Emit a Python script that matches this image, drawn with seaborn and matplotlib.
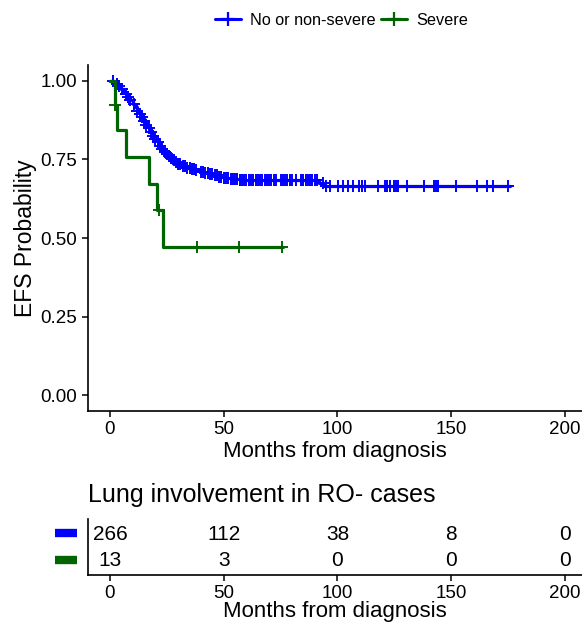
import numpy as np
import pandas as pd
import matplotlib
matplotlib.use("Agg")
import matplotlib.pyplot as plt
import seaborn as sns

# step curves (months, EFS probability after the step)
blue_t = [0, 2, 3, 4, 5, 6, 7, 8, 9, 10, 11, 12, 13, 14, 15, 16, 17, 18, 19, 20,
          21, 22, 23, 24, 25, 26, 27, 28, 29, 30, 32, 34, 36, 38, 40, 42, 44, 46,
          48, 50, 53, 57, 70, 92, 94, 176]
blue_s = [1.0, 0.996, 0.99, 0.983, 0.975, 0.966, 0.957, 0.948, 0.938, 0.927, 0.916,
          0.905, 0.895, 0.884, 0.872, 0.861, 0.850, 0.838, 0.826, 0.815, 0.804,
          0.794, 0.784, 0.775, 0.767, 0.760, 0.753, 0.747, 0.742, 0.737, 0.730,
          0.724, 0.719, 0.715, 0.711, 0.707, 0.703, 0.699, 0.695, 0.692, 0.689,
          0.686, 0.683, 0.675, 0.667, 0.667]
blue_cens = [1.5, 3, 4, 5.5, 7, 8, 9, 10.5, 12, 13, 14, 15, 16, 17, 18, 19, 20, 21,
             22, 23, 24, 25, 26, 27, 28, 29, 30, 31, 32, 33, 34, 35, 36, 37, 38, 40,
             41, 42, 43, 44, 45, 46, 47, 48, 49, 50, 51, 52, 53, 54, 55, 56, 57, 58,
             59, 60, 61, 62, 63, 64, 65, 66, 67, 68, 69, 70, 71, 72, 73, 75, 76, 77,
             78, 79, 80, 82, 84, 85, 86, 87, 88, 89, 90, 91, 93.6, 95, 96.7, 100.2,
             102.4, 104.6, 106.8, 109.5, 111, 112, 117.8, 120.9, 122, 123, 124.8,
             125.7, 126.6, 130.5, 138, 142.4, 143.4, 144.2, 152, 161.3, 165.7,
             168.4, 175]

green_t = [0, 2.2, 2.9, 6.9, 17.1, 20.5, 23.4, 76]
green_s = [1.0, 0.923, 0.843, 0.757, 0.671, 0.59, 0.47, 0.47]
green_cens = [2.2, 21.5, 38.4, 56.7, 75.8]

risk_times = [0, 50, 100, 150, 200]
risk_blue = [266, 112, 38, 8, 0]
risk_green = [13, 3, 0, 0, 0]

groups = ["No or non-severe", "Severe"]
colors = {"No or non-severe": "#0000FF", "Severe": "#006400"}

sns.set_style("ticks")
plt.rcParams["font.family"] = ["Liberation Sans", "DejaVu Sans"]
plt.rcParams["text.color"] = "black"
plt.rcParams["axes.labelcolor"] = "black"

curves = pd.concat([
    pd.DataFrame({"t": blue_t, "s": blue_s, "group": groups[0]}),
    pd.DataFrame({"t": green_t, "s": green_s, "group": groups[1]}),
])


def step_value(times, surv, x):
    idx = np.searchsorted(times, x, side="right") - 1
    return np.array(surv)[idx]


cens = pd.concat([
    pd.DataFrame({"t": blue_cens, "s": step_value(blue_t, blue_s, blue_cens), "group": groups[0]}),
    pd.DataFrame({"t": green_cens, "s": step_value(green_t, green_s, green_cens), "group": groups[1]}),
])

fig = plt.figure(figsize=(5.82, 6.26), dpi=100)
ax = fig.add_axes([0.151, 0.3435, 0.849, 0.5525])
tab = fig.add_axes([0.151, 0.0815, 0.849, 0.0895])

xlim = (-9.7, 207.5)

for g in groups:
    d = curves[curves["group"] == g]
    sns.lineplot(data=d, x="t", y="s", ax=ax, color=colors[g], lw=2.3,
                 drawstyle="steps-post", estimator=None, sort=False, legend=False)
    c = cens[cens["group"] == g]
    ax.plot(c["t"], c["s"], ls="none", marker="+", ms=9, mew=1.4, color=colors[g])

ax.set_xlim(*xlim)
ax.set_ylim(-0.05, 1.05)
ax.set_yticks([0, 0.25, 0.5, 0.75, 1.0])
ax.set_yticklabels(["0.00", "0.25", "0.50", "0.75", "1.00"])
ax.set_xticks(risk_times)
ax.set_xlabel("Months from diagnosis", fontsize=16)
ax.set_ylabel("EFS Probability", fontsize=16.5)
ax.yaxis.set_label_coords(-0.103, 0.5)
ax.xaxis.set_label_coords(0.5, -0.087)
ax.tick_params(labelsize=13.5, length=4, width=1.1, colors="black")
sns.despine(ax=ax)
for sp in ["left", "bottom"]:
    ax.spines[sp].set_linewidth(1.2)
    ax.spines[sp].set_color("black")

handles = [plt.Line2D([], [], color=colors[g], lw=2.2, marker="+", ms=10, mew=1.6) for g in groups]
fig.legend(handles, groups, loc="center", bbox_to_anchor=(0.587, 0.968), ncol=2,
           frameon=False, fontsize=11.7, handlelength=1.6, handletextpad=0.6, columnspacing=0.3)

# risk table
for y, vals in [(0.73, risk_blue), (0.25, risk_green)]:
    for t, v in zip(risk_times, vals):
        tab.text(t, y, str(v), ha="center", va="center", fontsize=15)
for y, g in [(0.75, groups[0]), (0.27, groups[1])]:
    tab.plot([-0.067, -0.022], [y, y], transform=tab.transAxes, color=colors[g],
             lw=6, solid_capstyle="butt", clip_on=False)

tab.set_xlim(*xlim)
tab.set_ylim(0, 1)
tab.set_yticks([])
tab.set_xticks(risk_times)
tab.set_xlabel("Months from diagnosis", fontsize=16)
tab.xaxis.set_label_coords(0.5, -0.46)
tab.tick_params(labelsize=13.5, length=4, width=1.1, colors="black")
sns.despine(ax=tab)
for sp in ["left", "bottom"]:
    tab.spines[sp].set_linewidth(1.2)
    tab.spines[sp].set_color("black")
tab.text(0.0, 1.30, "Lung involvement in RO- cases", transform=tab.transAxes,
         ha="left", va="baseline", fontsize=18)

fig.savefig("out.png", dpi=100)
